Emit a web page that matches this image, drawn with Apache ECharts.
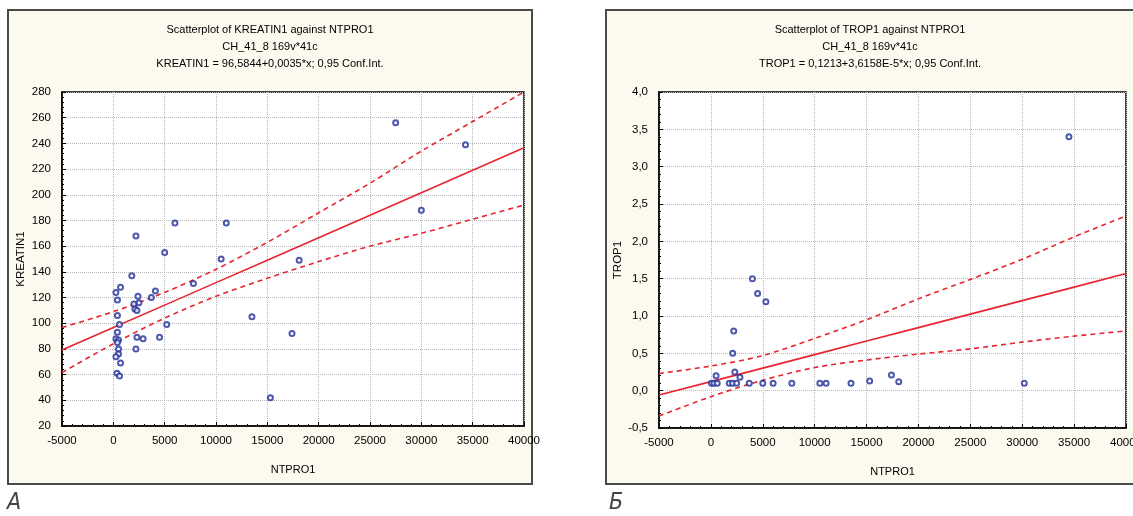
<!DOCTYPE html>
<html>
<head>
<meta charset="utf-8">
<script src="https://cdn.jsdelivr.net/npm/echarts@6/dist/echarts.min.js"></script>
<style>html,body{margin:0;padding:0;background:#fff;}#c{width:1133px;height:516px;}</style>
</head>
<body>
<div id="c"></div>
<script>
// ---- Left panel: KREATIN1 vs NTPRO1 ----
const leftNT = [2200,6000,11000,5000,10500,18100,1800,7800,700,250,4100,400,3700,2400,2500,2000,2100,2300,400,600,5200,400,250,500,400,2300,2900,4500,2200,500,500,250,700,350,600,13500,17400,15300,27500,34300,30000];
const leftKreatin = [168,178,178,155,150,149,137,131,128,124,125,118,120,121,116,115,111,110,106,99,99,93,88,87,85,89,88,89,80,80,76,74,69,61,59,105,92,42,256,239,188];
const lineX = [-5000,0,5000,10000,15000,20000,25000,30000,35000,40000];
const leftFit = [79.1,96.6,114.1,131.6,149.1,166.6,184.1,201.6,219.1,236.6];
const leftUpper = [96.6,109,124,142,163,186,209,234,257,280];
const leftLower = [61.6,84,104,121,135,148,160,170,181,192];

// ---- Right panel: TROP1 vs NTPRO1 ----
const rightNT = [4000,4500,5300,2200,2100,500,2300,2800,60,290,610,1770,2090,2480,3700,5000,6000,7800,10500,11100,13500,15300,17400,18100,30200,34500];
const rightTrop = [1.5,1.3,1.19,0.8,0.5,0.2,0.25,0.18,0.1,0.1,0.1,0.1,0.1,0.1,0.1,0.1,0.1,0.1,0.1,0.1,0.1,0.13,0.21,0.12,0.1,3.4];
const rightFit = [-0.059,0.121,0.302,0.483,0.664,0.844,1.025,1.206,1.387,1.568];
const rightUpper = [0.23,0.33,0.47,0.70,0.95,1.23,1.49,1.76,2.06,2.34];
const rightLower = [-0.34,-0.08,0.14,0.31,0.41,0.49,0.56,0.65,0.73,0.80];

const titlesLeft = ['Scatterplot of KREATIN1 against NTPRO1','CH_41_8 169v*41c','KREATIN1 = 96,5844+0,0035*x; 0,95 Conf.Int.'];
const titlesRight = ['Scatterplot of TROP1 against NTPRO1','CH_41_8 169v*41c','TROP1 = 0,1213+3,6158E-5*x; 0,95 Conf.Int.'];

const pairs = (xs, ys) => xs.map((x, i) => [x, ys[i]]);
const FONT = 'Liberation Sans, Arial, sans-serif';
const RED = '#e8252f';
const BLUE = '#22309a';

function xAxis(gi){
  return {
    gridIndex: gi, type: 'value', min: -5000, max: 40000, interval: 5000,
    name: 'NTPRO1', nameLocation: 'middle', nameGap: 38,
    nameTextStyle: {fontFamily: FONT, fontSize: 11, color: '#000'},
    axisLine: {show: true, onZero: false, lineStyle: {color: '#000', width: 1.5}},
    axisTick: {show: true, inside: true, length: 4, lineStyle: {color: '#000'}},
    minorTick: {show: true, splitNumber: 5, length: 2, lineStyle: {color: '#000'}},
    axisLabel: {fontFamily: FONT, fontSize: 11.5, color: '#000', margin: 9, formatter: v => String(v)},
    splitLine: {show: true, lineStyle: {color: '#b8b8b8', type: 'dotted', width: 1}}
  };
}
function yAxis(gi, min, max, interval, name, fmt){
  return {
    gridIndex: gi, type: 'value', min: min, max: max, interval: interval,
    name: name, nameLocation: 'middle', nameGap: 35,
    nameTextStyle: {fontFamily: FONT, fontSize: 11.5, color: '#000'},
    axisLine: {show: true, onZero: false, lineStyle: {color: '#000', width: 1.5}},
    axisTick: {show: true, inside: true, length: 4, lineStyle: {color: '#000'}},
    minorTick: {show: true, splitNumber: 5, length: 2, lineStyle: {color: '#000'}},
    axisLabel: {fontFamily: FONT, fontSize: 11.5, color: '#000', margin: 11, formatter: fmt},
    splitLine: {show: true, lineStyle: {color: '#b8b8b8', type: 'dotted', width: 1}}
  };
}
function lineSeries(gi, ys, dashed){
  return {
    type: 'line', xAxisIndex: gi, yAxisIndex: gi, data: pairs(lineX, ys),
    showSymbol: false, symbol: 'none', smooth: dashed ? 0.3 : false, clip: true, silent: true,
    lineStyle: {color: RED, width: 1.6, type: dashed ? [5, 4] : 'solid'}, z: 3
  };
}
function scatterSeries(gi, xs, ys){
  return {
    type: 'scatter', xAxisIndex: gi, yAxisIndex: gi, data: pairs(xs, ys),
    symbol: 'emptyCircle', symbolSize: 5,
    itemStyle: {color: BLUE, borderColor: BLUE, borderWidth: 1.6}, z: 4
  };
}
function titleTexts(cx, lines){
  return lines.map((t, i) => ({
    type: 'text', x: cx, y: 24 + i * 17,
    style: {text: t, fontFamily: FONT, fontSize: 11, fill: '#000', textAlign: 'center'}
  }));
}

const chart = echarts.init(document.getElementById('c'), null, {renderer: 'canvas'});
chart.setOption({
  animation: false,
  backgroundColor: '#fff',
  graphic: [
    {type: 'rect', shape: {x: 8, y: 10, width: 524, height: 474}, style: {fill: '#fcf9ee', stroke: '#4a4a4a', lineWidth: 2}, z: -10},
    {type: 'rect', shape: {x: 606, y: 10, width: 530, height: 474}, style: {fill: '#fcf9ee', stroke: '#4a4a4a', lineWidth: 2}, z: -10},
    ...titleTexts(270, titlesLeft),
    ...titleTexts(870, titlesRight),
    {type: 'text', x: 7, y: 492, style: {text: 'А', fontFamily: 'Liberation Sans Narrow, DejaVu Sans Condensed, sans-serif', fontStyle: 'italic', fontSize: 23, fill: '#444'}},
    {type: 'text', x: 609, y: 492, style: {text: 'Б', fontFamily: 'Liberation Sans Narrow, DejaVu Sans Condensed, sans-serif', fontStyle: 'italic', fontSize: 23, fill: '#444'}}
  ],
  grid: [
    {left: 62, top: 92, width: 462, height: 334, show: true, backgroundColor: '#fff', borderColor: '#000', borderWidth: 1.5, outerBoundsMode: 'none', containLabel: false},
    {left: 659, top: 92, width: 467, height: 336, show: true, backgroundColor: '#fff', borderColor: '#000', borderWidth: 1.5, outerBoundsMode: 'none', containLabel: false}
  ],
  xAxis: [xAxis(0), xAxis(1)],
  yAxis: [
    yAxis(0, 20, 280, 20, 'KREATIN1', v => String(v)),
    yAxis(1, -0.5, 4, 0.5, 'TROP1', v => v.toFixed(1).replace('.', ','))
  ],
  series: [
    lineSeries(0, leftFit, false),
    lineSeries(0, leftUpper, true),
    lineSeries(0, leftLower, true),
    scatterSeries(0, leftNT, leftKreatin),
    lineSeries(1, rightFit, false),
    lineSeries(1, rightUpper, true),
    lineSeries(1, rightLower, true),
    scatterSeries(1, rightNT, rightTrop)
  ]
});
</script>
</body>
</html>
